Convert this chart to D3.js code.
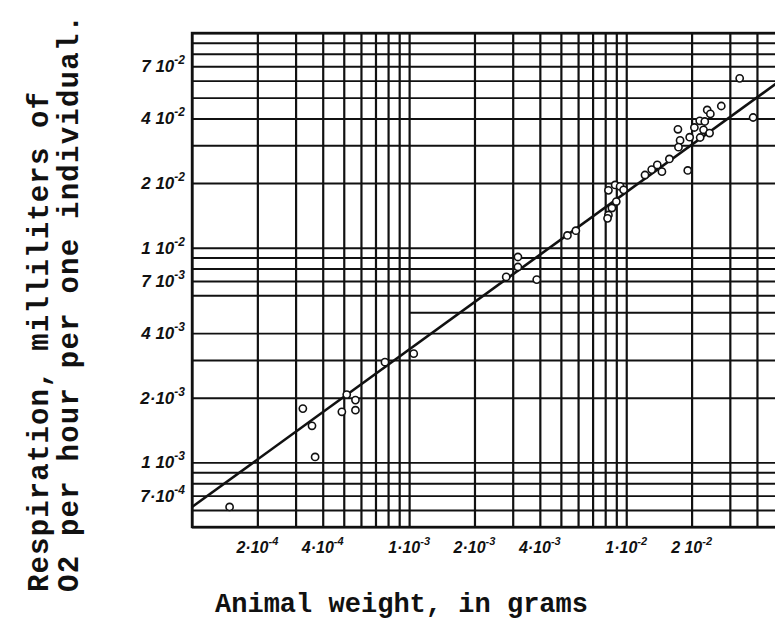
<!DOCTYPE html>
<html>
<head>
<meta charset="utf-8">
<script src="https://cdn.jsdelivr.net/npm/d3@7"></script>
<style>
  body { margin: 0; background: #fff; }
  .tick-lab { font-family: "Liberation Sans", Arial, sans-serif; font-style: italic; font-weight: bold; fill: #111; }
  .title { font-family: "Liberation Mono", "DejaVu Sans Mono", monospace; font-weight: bold; fill: #111; }
</style>
</head>
<body>
<svg id="chart" width="775" height="628"></svg>
<script>
// animal weight (g) and respiration (ml O2 / hour / individual)
var weight = [
  1.49e-4, 3.24e-4, 3.57e-4, 3.69e-4, 4.90e-4, 5.16e-4, 5.66e-4, 5.66e-4, 7.74e-4, 1.05e-3,
  2.80e-3, 3.17e-3, 3.17e-3, 3.87e-3, 5.36e-3, 5.86e-3,
  8.28e-3, 8.89e-3, 9.37e-3, 9.72e-3, 9.00e-3, 8.59e-3, 8.28e-3, 8.20e-3,
  1.22e-2, 1.31e-2, 1.39e-2, 1.46e-2, 1.58e-2, 1.92e-2,
  1.73e-2, 1.77e-2, 1.74e-2, 1.96e-2, 2.06e-2, 2.18e-2, 2.19e-2, 2.30e-2, 2.27e-2, 2.42e-2,
  2.36e-2, 2.44e-2, 2.74e-2, 3.33e-2, 3.84e-2
];
var respiration = [
  6.2e-4, 1.78e-3, 1.48e-3, 1.06e-3, 1.72e-3, 2.07e-3, 1.95e-3, 1.75e-3, 2.93e-3, 3.21e-3,
  7.31e-3, 9.05e-3, 8.13e-3, 7.10e-3, 1.14e-2, 1.20e-2,
  1.85e-2, 1.96e-2, 1.93e-2, 1.86e-2, 1.64e-2, 1.53e-2, 1.42e-2, 1.37e-2,
  2.18e-2, 2.31e-2, 2.43e-2, 2.26e-2, 2.59e-2, 2.29e-2,
  3.56e-2, 3.16e-2, 2.94e-2, 3.27e-2, 3.63e-2, 3.90e-2, 3.26e-2, 3.87e-2, 3.54e-2, 3.42e-2,
  4.38e-2, 4.20e-2, 4.57e-2, 6.15e-2, 4.04e-2
];

// fitted line end points [weight, respiration]
var fitLine = [[1e-4, 6.2e-4], [5e-2, 5.9e-2]];

var xTickValues = [2e-4, 4e-4, 1e-3, 2e-3, 4e-3, 1e-2, 2e-2];
var xTickLabels = [["2·10", "-4"], ["4·10", "-4"], ["1·10", "-3"], ["2·10", "-3"], ["4·10", "-3"], ["1·10", "-2"], ["2 10", "-2"]];

var yTickValues = [7e-2, 4e-2, 2e-2, 1e-2, 7e-3, 4e-3, 2e-3, 1e-3, 7e-4];
var yTickLabels = [["7 10", "-2"], ["4 10", "-2"], ["2 10", "-2"], ["1 10", "-2"], ["7 10", "-3"], ["4 10", "-3"], ["2·10", "-3"], ["1 10", "-3"], ["7·10", "-4"]];

var xTitle = "Animal weight, in grams";
var yTitle1 = "Respiration, milliliters of";
var yTitle2 = "O2 per hour per one individual.";

var svg = d3.select("#chart");

var plotLeft = 192, plotTop = 33, plotBottom = 527, plotRight = 800;

var x = d3.scaleLog().domain([1e-4, 5e-2]).range([plotLeft, 778]);
var y = d3.scaleLog().domain([5e-4, 1e-1]).range([plotBottom, plotTop]);

// vertical grid
var xGrid = svg.append("g")
    .attr("transform", "translate(0," + plotBottom + ")")
    .call(d3.axisBottom(x).tickSize(-(plotBottom - plotTop)).tickFormat(""));
xGrid.select(".domain").remove();
xGrid.selectAll(".tick line").attr("stroke", "#111").attr("stroke-width", 2.2);

// horizontal grid
var yGrid = svg.append("g")
    .attr("transform", "translate(" + plotLeft + ",0)")
    .call(d3.axisLeft(y).tickSize(-(plotRight - plotLeft)).tickFormat(""));
yGrid.select(".domain").remove();
yGrid.selectAll(".tick line").attr("stroke", "#111").attr("stroke-width", 1.9);
// the 5e-3 line is only printed right of 1e-3
yGrid.selectAll(".tick").filter(function(d) { return Math.abs(d - 5e-3) < 1e-6; })
    .select("line").attr("x1", x(1e-3) - plotLeft);

// frame
svg.append("rect")
    .attr("x", plotLeft).attr("y", plotTop)
    .attr("width", plotRight - plotLeft).attr("height", plotBottom - plotTop)
    .attr("fill", "none").attr("stroke", "#111").attr("stroke-width", 2.4);

// fitted line
svg.append("path")
    .datum(fitLine)
    .attr("d", d3.line().x(function(d) { return x(d[0]); }).y(function(d) { return y(d[1]); }))
    .attr("stroke", "#111").attr("stroke-width", 2.6).attr("fill", "none");

// points
svg.append("g").selectAll("circle")
    .data(d3.range(weight.length))
  .enter().append("circle")
    .attr("cx", function(i) { return x(weight[i]); })
    .attr("cy", function(i) { return y(respiration[i]); })
    .attr("r", 3.6)
    .attr("fill", "#fff").attr("stroke", "#111").attr("stroke-width", 1.6);

// x tick labels
var xl = svg.append("g").selectAll("text")
    .data(xTickValues)
  .enter().append("text")
    .attr("class", "tick-lab")
    .attr("x", function(d) { return x(d); })
    .attr("y", 553)
    .attr("text-anchor", "middle")
    .style("font-size", "16px");
xl.append("tspan").text(function(d, i) { return xTickLabels[i][0]; });
xl.append("tspan").attr("dy", -8).style("font-size", "11px")
    .text(function(d, i) { return xTickLabels[i][1]; });

// y tick labels
var yl = svg.append("g").selectAll("text")
    .data(yTickValues)
  .enter().append("text")
    .attr("class", "tick-lab")
    .attr("x", 185)
    .attr("y", function(d) { return y(d) + 6; })
    .attr("text-anchor", "end")
    .style("font-size", "17px");
yl.append("tspan").text(function(d, i) { return yTickLabels[i][0]; });
yl.append("tspan").attr("dy", -8).style("font-size", "12px")
    .text(function(d, i) { return yTickLabels[i][1]; });

// titles
svg.append("text")
    .attr("class", "title")
    .attr("x", 215).attr("y", 612)
    .attr("textLength", 373).attr("lengthAdjust", "spacing")
    .style("font-size", "27px")
    .text(xTitle);

svg.append("text")
    .attr("class", "title")
    .attr("transform", "translate(48,592) rotate(-90)")
    .attr("textLength", 500).attr("lengthAdjust", "spacing")
    .style("font-size", "29px")
    .text(yTitle1);

svg.append("text")
    .attr("class", "title")
    .attr("transform", "translate(78,592) rotate(-90)")
    .attr("textLength", 577).attr("lengthAdjust", "spacing")
    .style("font-size", "29px")
    .text(yTitle2);
</script>
</body>
</html>
